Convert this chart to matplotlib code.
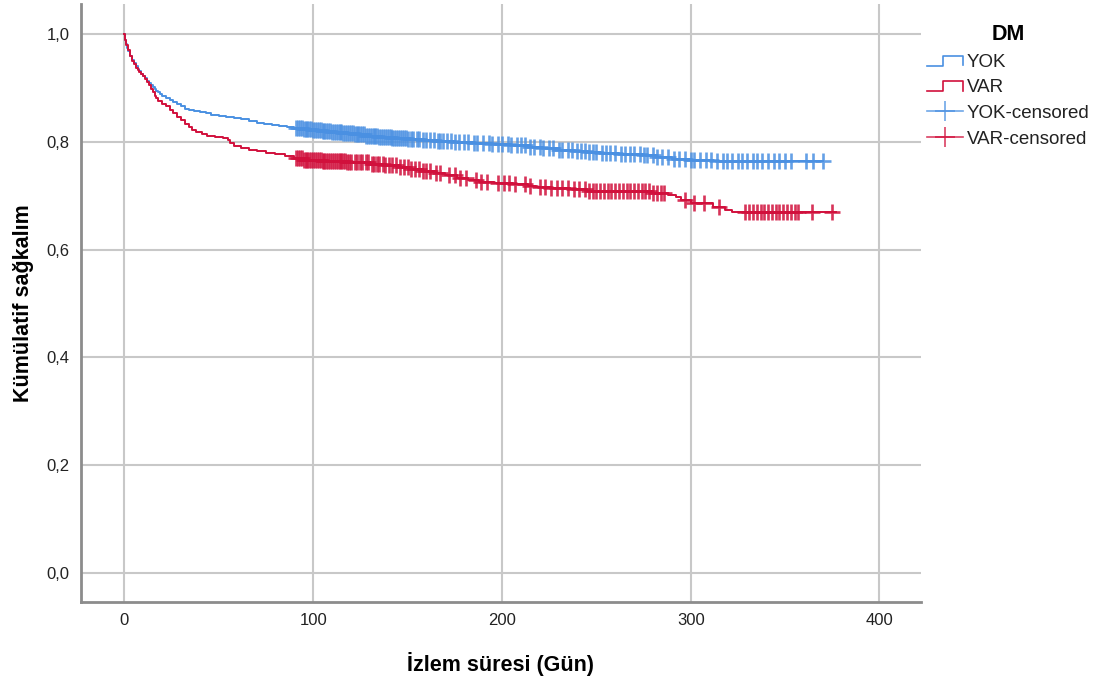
import numpy as np
import matplotlib.pyplot as plt
from matplotlib.lines import Line2D
from matplotlib.legend_handler import HandlerBase
from matplotlib.ticker import FuncFormatter

plt.rcParams['font.family'] = ['Liberation Sans', 'DejaVu Sans']

# survival step points (day, cumulative survival)
yok_t = [0, 0.5, 1, 1.5, 2, 3, 4, 5, 6, 7, 8, 9, 10, 11, 12, 13, 14, 15, 16, 17,
         18, 19, 20, 22, 24, 26, 28, 30, 32, 34, 37, 40, 43, 46, 50, 54, 58, 62,
         66, 70, 74, 78, 82, 86, 90, 95, 100, 105, 110, 116, 122, 128, 135, 142,
         150, 158, 166, 175, 185, 195, 205, 215, 222, 230, 238, 245, 252, 262,
         275, 282, 290, 300, 312]
yok_s = [1.0, 0.99, 0.982, 0.975, 0.968, 0.96, 0.953, 0.947, 0.941, 0.936, 0.931,
         0.926, 0.922, 0.918, 0.914, 0.91, 0.906, 0.902, 0.898, 0.895, 0.892,
         0.889, 0.886, 0.882, 0.878, 0.874, 0.87, 0.866, 0.862, 0.859, 0.857,
         0.855, 0.853, 0.851, 0.849, 0.847, 0.845, 0.842, 0.839, 0.836, 0.834,
         0.832, 0.83, 0.828, 0.826, 0.824, 0.822, 0.82, 0.818, 0.816, 0.814,
         0.812, 0.81, 0.808, 0.806, 0.804, 0.802, 0.8, 0.798, 0.796, 0.794,
         0.791, 0.789, 0.786, 0.784, 0.781, 0.779, 0.777, 0.775, 0.772, 0.769,
         0.767, 0.765]

var_t = [0, 0.5, 1, 2, 3, 4, 5, 6, 7, 8, 9, 10, 11, 12, 13, 14, 15, 16, 17, 18,
         20, 22, 24, 26, 28, 30, 32, 34, 36, 38, 41, 44, 48, 52, 55, 56, 58, 62,
         66, 70, 75, 80, 85, 90, 95, 105, 118, 130, 138, 146, 152, 158, 165, 170,
         176, 182, 188, 196, 206, 214, 218, 226, 236, 245, 280, 288, 292, 295,
         300, 312, 318, 322]
var_s = [1.0, 0.99, 0.98, 0.97, 0.96, 0.95, 0.944, 0.938, 0.933, 0.93, 0.926,
         0.922, 0.917, 0.911, 0.905, 0.898, 0.892, 0.886, 0.881, 0.876, 0.871,
         0.866, 0.86, 0.853, 0.846, 0.84, 0.834, 0.828, 0.823, 0.818, 0.815,
         0.812, 0.81, 0.807, 0.804, 0.798, 0.792, 0.789, 0.786, 0.783, 0.78,
         0.777, 0.774, 0.77, 0.767, 0.765, 0.762, 0.76, 0.757, 0.753, 0.749,
         0.746, 0.742, 0.738, 0.734, 0.73, 0.726, 0.724, 0.722, 0.719, 0.716,
         0.714, 0.712, 0.709, 0.706, 0.702, 0.697, 0.692, 0.686, 0.68, 0.674,
         0.67]

# censored observation days
yok_cens = [91, 92, 93, 94, 95, 96, 97, 98, 99, 100, 101, 102, 103, 104, 105, 106,
            107, 108, 109, 110, 111, 112, 113, 114, 115, 116, 117, 118, 119, 120,
            121, 122, 123, 124, 125, 126, 127, 128, 129, 130, 131, 132, 133, 134,
            135, 136, 137, 138, 139, 140, 141, 142, 143, 144, 145, 146, 147, 148,
            149, 150, 152, 153, 155, 156, 158, 160, 162, 164, 166, 167, 169, 171,
            173, 175, 177, 180, 182, 185, 187, 190, 193, 195, 198, 200, 203, 205,
            208, 210, 212, 215, 217, 220, 222, 225, 227, 230, 232, 235, 237, 240,
            242, 244, 246, 248, 250, 253, 255, 257, 260, 263, 265, 268, 270, 273,
            275, 277, 280, 282, 285, 288, 291, 294, 297, 300, 302, 305, 308, 311,
            314, 317, 319, 322, 325, 327, 330, 333, 335, 338, 341, 344, 347, 350,
            353, 361, 365, 370]
var_cens = [91, 92, 93, 94, 95, 96, 97, 98, 99, 100, 101, 102, 103, 104, 105, 106,
            107, 108, 109, 110, 111, 112, 113, 114, 115, 116, 117, 118, 119, 120,
            122, 123, 125, 126, 128, 129, 131, 132, 134, 135, 137, 138, 140, 142,
            144, 146, 148, 150, 152, 154, 156, 158, 160, 162, 165, 167, 172, 175,
            178, 181, 186, 189, 192, 198, 201, 204, 207, 212, 215, 220, 223, 226,
            229, 232, 235, 238, 241, 244, 246, 248, 250, 252, 254, 256, 258, 260,
            262, 264, 266, 268, 270, 272, 274, 276, 278, 280, 282, 284, 286, 297,
            302, 307, 315, 329, 331, 333, 335, 337, 339, 341, 343, 345, 347, 349,
            351, 353, 355, 357, 364, 375]

yok_end = 370
var_end = 377

groups = ['YOK', 'VAR']
colors = ['#4a90e2', '#d1103c']


def surv_at(t_steps, s_steps, times):
    idx = np.searchsorted(t_steps, times, side='right') - 1
    return np.asarray(s_steps)[idx]


class StepHandler(HandlerBase):
    def create_artists(self, legend, orig, xd, yd, w, h, fs, trans):
        xs = [xd, xd + w * 0.45, xd + w * 0.45, xd + w, xd + w]
        ys = [yd + h * 0.1, yd + h * 0.1, yd + h * 0.85, yd + h * 0.85, yd + h * 0.15]
        ln = Line2D(xs, ys, color=orig.get_color(), lw=1.2, transform=trans)
        return [ln]


fig = plt.figure(figsize=(11, 6.81), dpi=100)
ax = fig.add_axes([0.0736, 0.116, 0.7637, 0.878])

data = [(yok_t, yok_s, yok_cens, yok_end), (var_t, var_s, var_cens, var_end)]
step_lines = []
for (t, s, cens, end), c in zip(data, colors):
    tt = list(t) + [end]
    ss = list(s) + [s[-1]]
    ln, = ax.step(tt, ss, where='post', color=c, lw=1.4, zorder=3)
    step_lines.append(ln)
    cs = surv_at(t, s, cens)
    ax.plot(cens, cs, ls='none', marker='+', ms=11, mew=1.9, color=c,
            alpha=0.85, zorder=4)

ax.set_xlim(-23, 422)
ax.set_ylim(-0.054, 1.056)
ax.set_xticks([0, 100, 200, 300, 400])
ax.set_yticks([0, 0.2, 0.4, 0.6, 0.8, 1.0])
ax.yaxis.set_major_formatter(FuncFormatter(lambda v, p: f'{v:.1f}'.replace('.', ',')))
ax.grid(True, color='#c8c8c8', lw=1.5)
ax.set_axisbelow(True)
for sp in ['top', 'right']:
    ax.spines[sp].set_visible(False)
for sp in ['left', 'bottom']:
    ax.spines[sp].set_color('#8c8c8c')
    ax.spines[sp].set_linewidth(2)
ax.tick_params(length=0, labelsize=12, colors='#222222', pad=8)

ax.set_xlabel('İzlem süresi (Gün)', fontsize=15.5, fontweight='bold', labelpad=17)
ax.set_ylabel('Kümülatif sağkalım', fontsize=15.5, fontweight='bold', labelpad=9)

# legend handles
cens_handles = [Line2D([], [], color=c, lw=1.2, marker='+', ms=14, mew=1.2, alpha=0.8)
                for c in colors]
handles = step_lines + cens_handles
labels = ['YOK', 'VAR', 'YOK-censored', 'VAR-censored']
leg = fig.legend(handles, labels, loc='upper left', bbox_to_anchor=(0.834, 0.978),
                 frameon=False, fontsize=13.5, title='DM', borderpad=0,
                 title_fontproperties={'weight': 'bold', 'size': 15.5},
                 handlelength=1.95, handletextpad=0.2, labelspacing=0.45,
                 handler_map={step_lines[0]: StepHandler(), step_lines[1]: StepHandler()})
for txt in leg.get_texts():
    txt.set_color('#222222')

fig.savefig('out.png', dpi=100)
